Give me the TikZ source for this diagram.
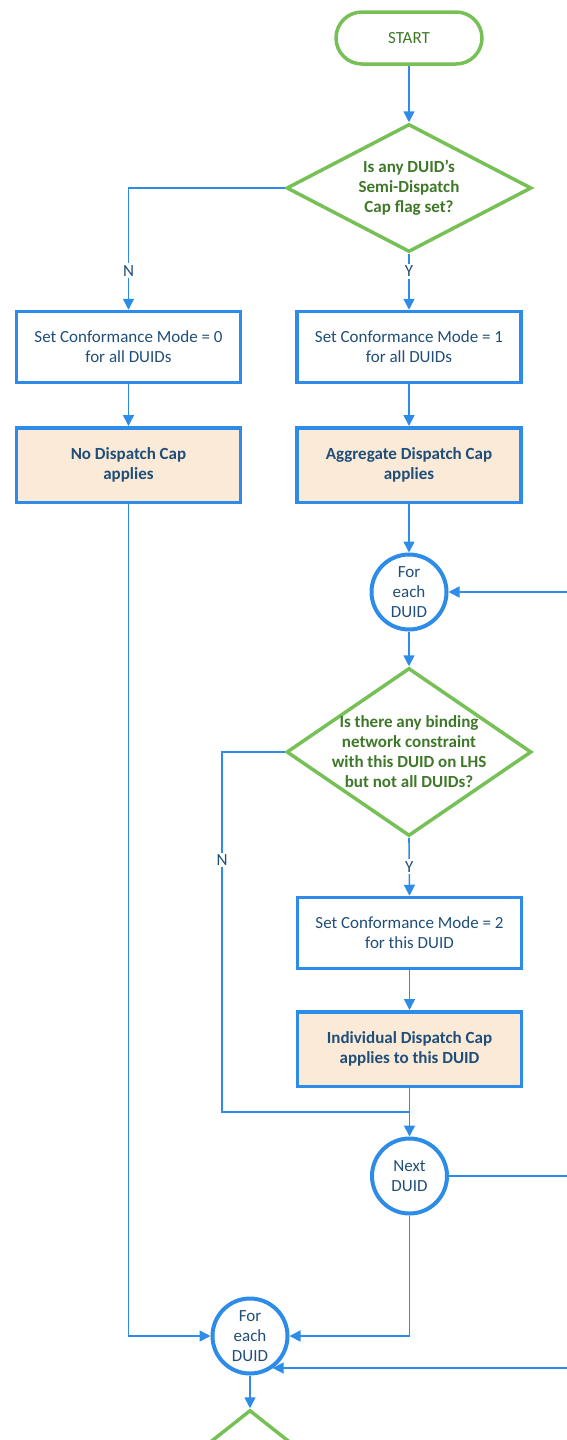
\documentclass[tikz,border=0pt]{standalone}
\usepackage{fontspec}
\setmainfont{Carlito}
\usetikzlibrary{shapes.geometric,arrows.meta}
\definecolor{lblue}{RGB}{44,140,232}
\definecolor{bgreen}{RGB}{118,192,86}
\definecolor{tgreen}{RGB}{62,120,40}
\definecolor{tblue}{RGB}{31,78,121}
\definecolor{peach}{RGB}{251,234,215}
\begin{document}
\begin{tikzpicture}[x=1pt,y=-1pt,
  txt/.style={font=\fontsize{17}{20}\selectfont},
  box/.style={txt,draw=lblue,line width=3.5pt,minimum width=224pt,minimum height=71pt,align=center,text=tblue,inner sep=0pt},
  capbox/.style={box,fill=peach,minimum height=74.5pt,font=\fontsize{17}{20}\selectfont\bfseries},
  loopc/.style={txt,circle,draw=lblue,line width=4pt,minimum size=75pt,inner sep=0pt,align=center,text=tblue},
  decision/.style={diamond,draw=bgreen,line width=3.5pt,minimum width=245pt,minimum height=168pt,inner sep=0pt},
  dtext/.style={align=center,text=tgreen,font=\fontsize{17}{20}\selectfont\bfseries},
  term/.style={txt,draw=bgreen,line width=3.5pt,rounded corners=26pt,minimum width=146pt,minimum height=52pt,text=tgreen,inner sep=0pt},
  line/.style={draw=lblue,line width=1.6pt},
  conn/.style={line,-{Triangle[length=11pt,width=11pt]}},
  yn/.style={txt,fill=white,text=tblue,inner sep=2pt}]
\useasboundingbox (0,0) rectangle (567,1440);
\clip (0,0) rectangle (567,1440);

\node[term] (start) at (409,38) {START};
\node[decision,minimum height=128pt] (d1) at (409,188) {};
\node[dtext] (d1t) at (d1) {Is any DUID’s\\Semi-Dispatch\\Cap flag set?};
\node[box] (b1) at (128.5,347) {Set Conformance Mode = 0\\for all DUIDs};
\node[box] (b2) at (409,347) {Set Conformance Mode = 1\\for all DUIDs};
\node[capbox] (c1) at (128.5,465) {No Dispatch Cap\\applies};
\node[capbox] (c2) at (409,465) {Aggregate Dispatch Cap\\applies};
\node[loopc] (l1) at (409,592) {For\\each\\DUID};
\node[decision] (d2) at (409,752) {};
\node[dtext] (d2t) at (d2) {Is there any binding\\network constraint\\with this DUID on LHS\\but not all DUIDs?};
\node[box] (b5) at (409.5,933) {Set Conformance Mode = 2\\for this DUID};
\node[capbox] (c5) at (409.5,1049) {Individual Dispatch Cap\\applies to this DUID};
\node[loopc] (l2) at (409.5,1176) {Next\\DUID};
\node[loopc] (l3) at (250,1336) {For\\each\\DUID};
\node[decision,minimum height=194pt] (d3) at (250,1507) {};

\coordinate (r1) at (567,592);
\coordinate (r2) at (567,1176);
\coordinate (r3) at (567,1368);
\coordinate (nc) at (222,1112);
\coordinate (nj) at (409.5,1112);

\draw[conn] (start) -- (d1);
\draw[conn] (d1.west) -| node[yn,pos=0.84]{N} (b1.north);
\draw[conn] (d1.south) -- node[yn,pos=0.31]{Y} (b2.north);
\draw[conn] (b1) -- (c1);
\draw[conn] (b2) -- (c2);
\draw[conn] (c2) -- (l1);
\draw[conn] (c1.south) |- (l3.west);
\draw[conn] (r1) -- (l1.east);
\draw[conn] (l1) -- (d2);
\draw[line] (d2.west) -| node[yn,pos=0.65]{N} (nc) -- (nj);
\draw[conn] (d2.south) -- node[yn,pos=0.5]{Y} (b5.north);
\draw[conn] (b5) -- (c5);
\draw[conn] (c5) -- (l2);
\draw[line] (l2.east) -- (r2);
\draw[conn] (l2.south) |- (l3.east);
\draw[conn] (r3) -- (l3.-55 |- r3);
\draw[conn] (l3) -- (d3);
\end{tikzpicture}
\end{document}
